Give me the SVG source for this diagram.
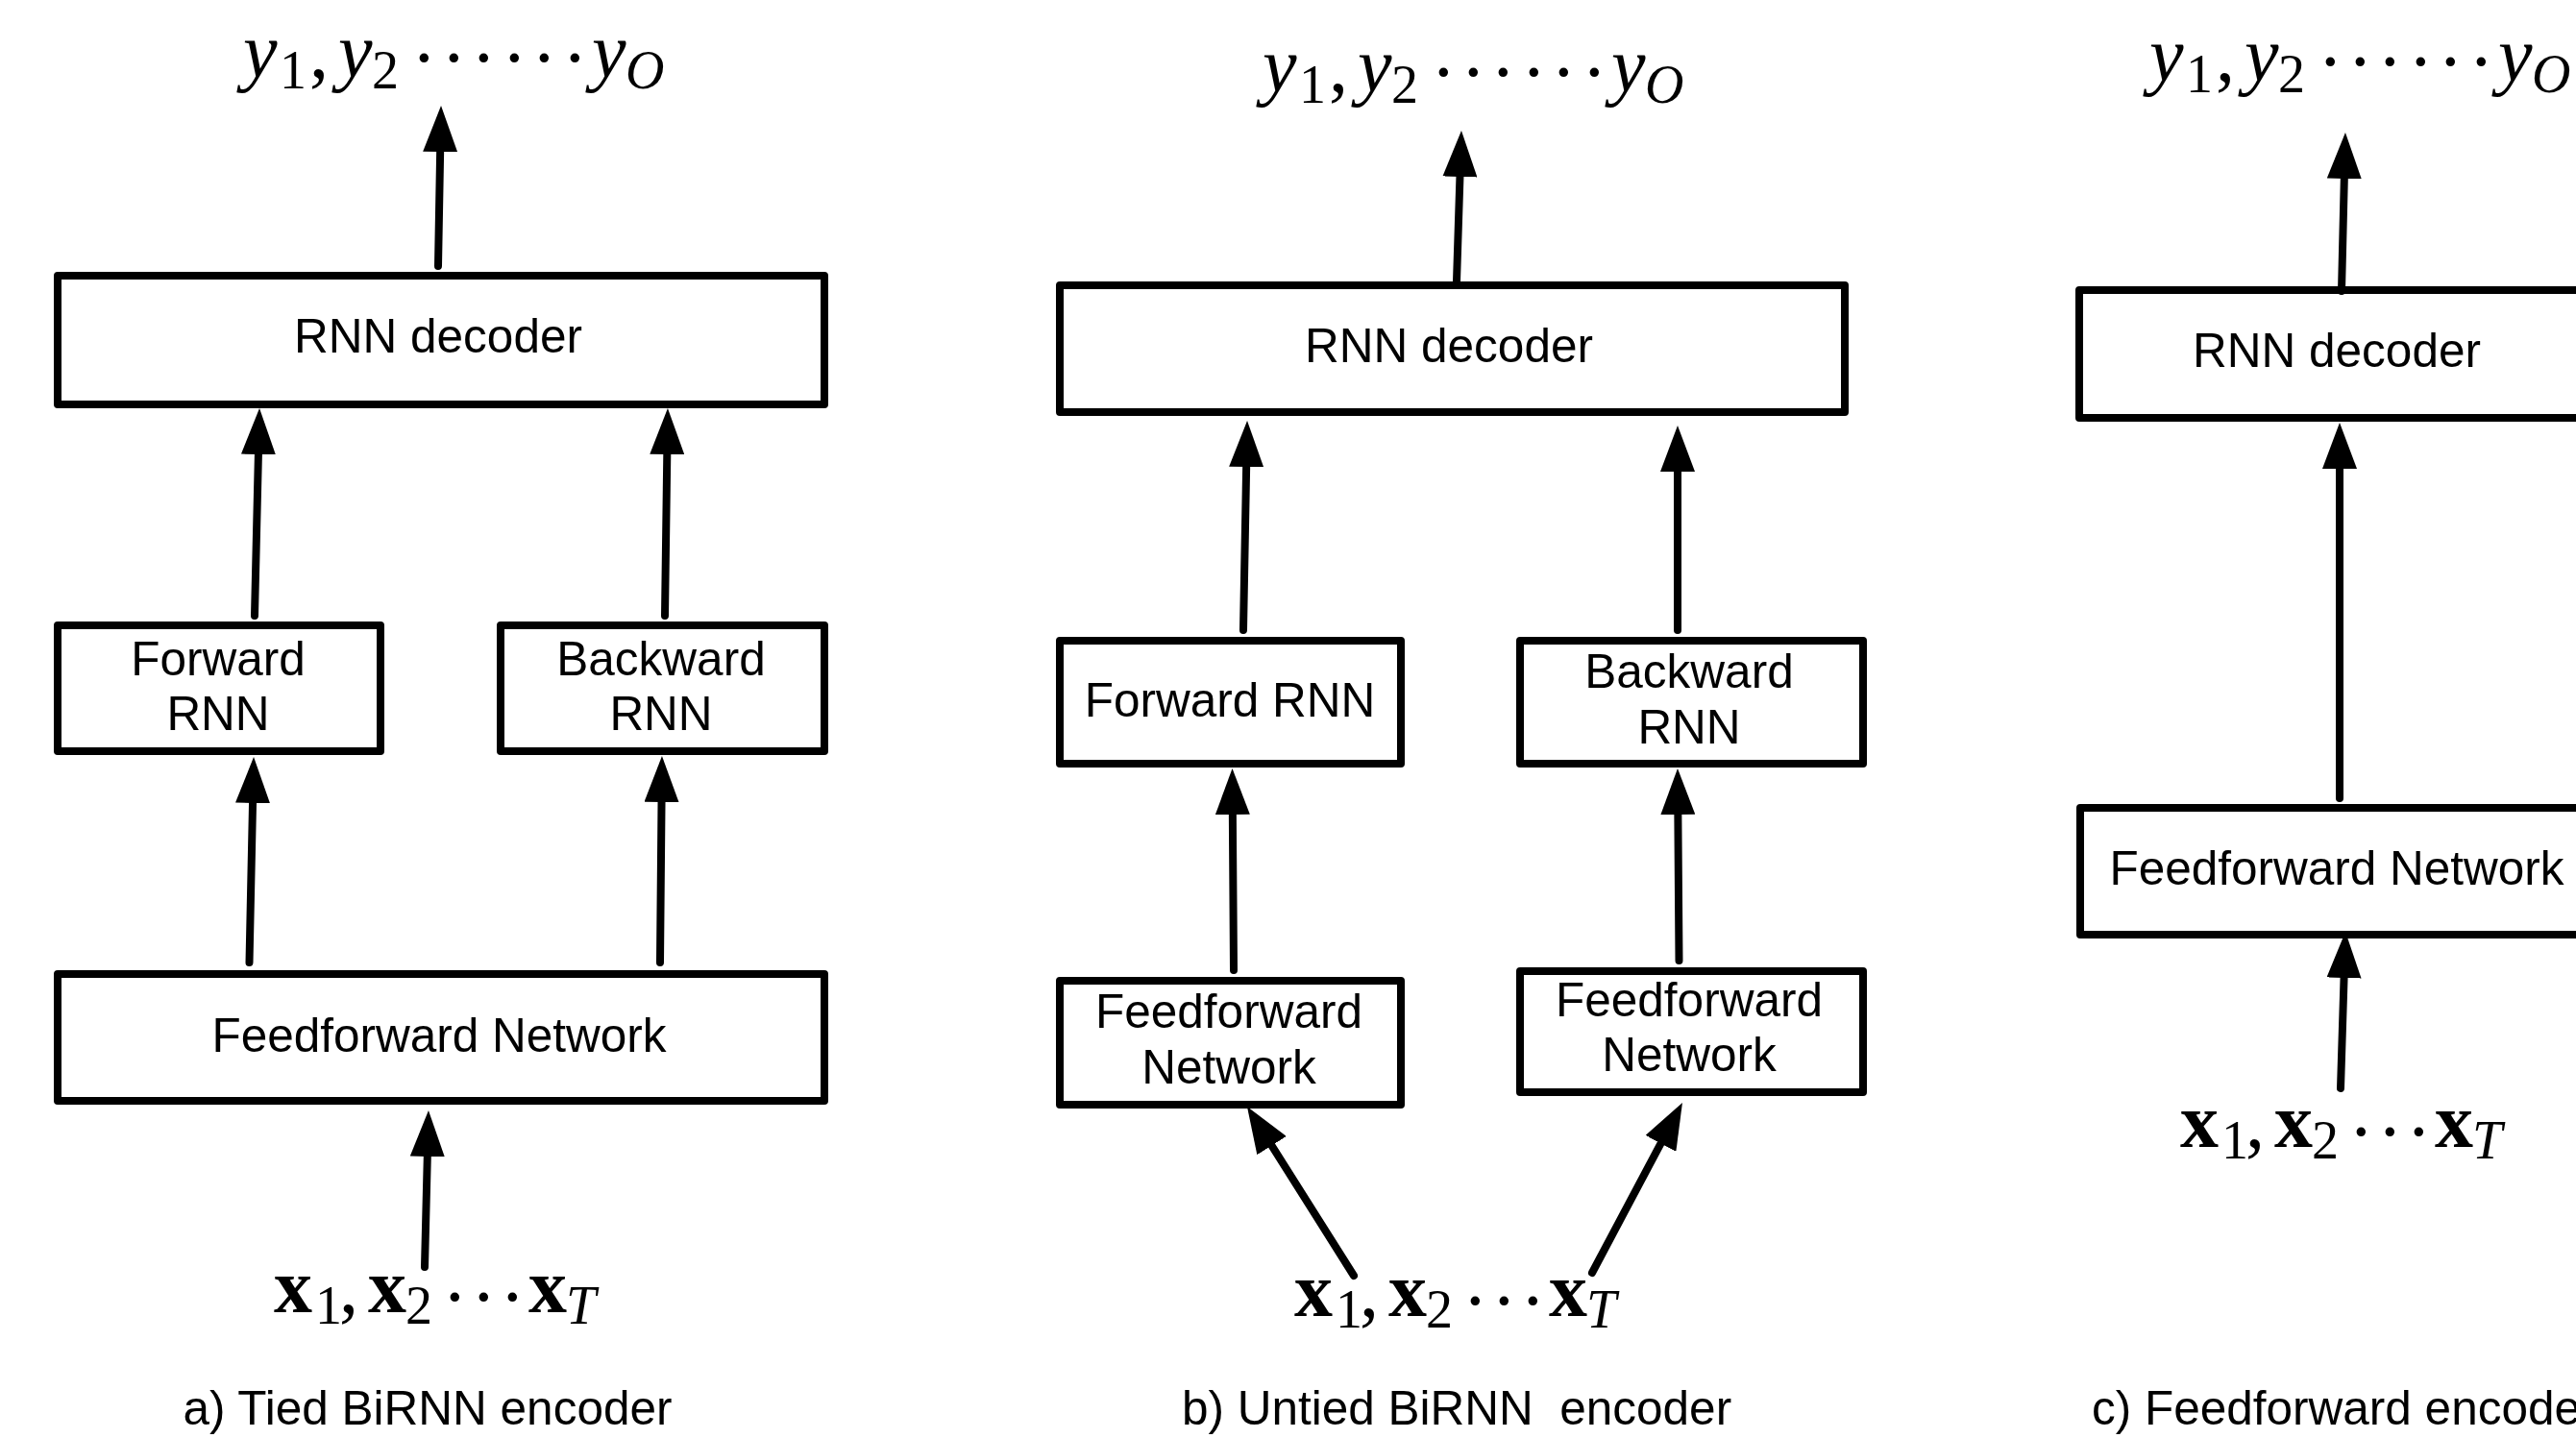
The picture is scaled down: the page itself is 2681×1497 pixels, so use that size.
<svg xmlns="http://www.w3.org/2000/svg" width="2681" height="1497" viewBox="0 0 2681 1497">
<style>
.box{fill:#fff;stroke:#000;stroke-width:8;stroke-linejoin:round}
.lbl{font-family:"Liberation Sans",Arial,Helvetica,sans-serif;font-size:49.5px;fill:#000;text-anchor:middle}
.cap{font-family:"Liberation Sans",Arial,Helvetica,sans-serif;font-size:49.5px;fill:#000}
.m{font-family:"Liberation Serif","Times New Roman",serif;font-size:80px;fill:#000}
.mi{font-style:italic}
.mb{font-weight:bold}
.s{font-size:56px}
.conn line{stroke:#000;stroke-width:8;stroke-linecap:round;fill:none;marker-end:url(#ah)}
</style>
<defs>
<marker id="ah" markerUnits="userSpaceOnUse" markerWidth="48" markerHeight="36" viewBox="0 0 48 36" refX="8" refY="18" orient="auto">
<path d="M0,0 L48,18 L0,36 Z" fill="#000"/>
</marker>
</defs>
<rect width="2681" height="1497" fill="#fff"/>

<!-- Panel a -->
<g id="a-out">
<text class="m"><tspan class="mi" x="253" y="80">y</tspan><tspan class="s" x="291" y="92">1</tspan><tspan x="322" y="80">,</tspan><tspan class="mi" x="352" y="80">y</tspan><tspan class="s" x="387" y="92">2</tspan><tspan x="428" y="87">·</tspan><tspan x="459" y="87">·</tspan><tspan x="490" y="87">·</tspan><tspan x="522" y="87">·</tspan><tspan x="553" y="87">·</tspan><tspan x="585" y="87">·</tspan><tspan class="mi" x="616" y="80">y</tspan><tspan class="s mi" x="651" y="92">O</tspan></text>
</g>
<g id="a-dec"><rect class="box" x="60" y="287" width="798" height="134"/><text class="lbl" x="456" y="367">RNN decoder</text></g>
<g id="a-fwd"><rect class="box" x="60" y="651" width="336" height="131"/><text class="lbl" x="227" y="703">Forward</text><text class="lbl" x="227" y="760">RNN</text></g>
<g id="a-bwd"><rect class="box" x="521" y="651" width="337" height="131"/><text class="lbl" x="688" y="703">Backward</text><text class="lbl" x="688" y="760">RNN</text></g>
<g id="a-ff"><rect class="box" x="60" y="1014" width="798" height="132"/><text class="lbl" x="457" y="1095">Feedforward Network</text></g>
<g id="a-in">
<text class="m"><tspan class="mb" x="285" y="1366">x</tspan><tspan class="s" x="328" y="1378">1</tspan><tspan x="353" y="1366">,</tspan><tspan class="mb" x="383" y="1366">x</tspan><tspan class="s" x="422" y="1378">2</tspan><tspan x="460" y="1377">·</tspan><tspan x="490" y="1377">·</tspan><tspan x="520" y="1377">·</tspan><tspan class="mb" x="550" y="1366">x</tspan><tspan class="s mi" x="589" y="1378">T</tspan></text>
</g>
<text id="a-cap" class="cap" x="445" y="1483" text-anchor="middle">a) Tied BiRNN encoder</text>

<!-- Panel b -->
<g id="b-out" transform="translate(1061,15)">
<text class="m"><tspan class="mi" x="253" y="80">y</tspan><tspan class="s" x="291" y="92">1</tspan><tspan x="322" y="80">,</tspan><tspan class="mi" x="352" y="80">y</tspan><tspan class="s" x="387" y="92">2</tspan><tspan x="428" y="87">·</tspan><tspan x="459" y="87">·</tspan><tspan x="490" y="87">·</tspan><tspan x="522" y="87">·</tspan><tspan x="553" y="87">·</tspan><tspan x="585" y="87">·</tspan><tspan class="mi" x="616" y="80">y</tspan><tspan class="s mi" x="651" y="92">O</tspan></text>
</g>
<g id="b-dec"><rect class="box" x="1103" y="297" width="817" height="132"/><text class="lbl" x="1508" y="377">RNN decoder</text></g>
<g id="b-fwd"><rect class="box" x="1103" y="667" width="355" height="128"/><text class="lbl" x="1280" y="746">Forward RNN</text></g>
<g id="b-bwd"><rect class="box" x="1582" y="667" width="357" height="128"/><text class="lbl" x="1758" y="716">Backward</text><text class="lbl" x="1758" y="774">RNN</text></g>
<g id="b-ffl"><rect class="box" x="1103" y="1021" width="355" height="129"/><text class="lbl" x="1279" y="1070">Feedforward</text><text class="lbl" x="1279" y="1128">Network</text></g>
<g id="b-ffr"><rect class="box" x="1582" y="1011" width="357" height="126"/><text class="lbl" x="1758" y="1058">Feedforward</text><text class="lbl" x="1758" y="1115">Network</text></g>
<g id="b-in" transform="translate(1062,4)">
<text class="m"><tspan class="mb" x="285" y="1366">x</tspan><tspan class="s" x="328" y="1378">1</tspan><tspan x="353" y="1366">,</tspan><tspan class="mb" x="383" y="1366">x</tspan><tspan class="s" x="422" y="1378">2</tspan><tspan x="460" y="1377">·</tspan><tspan x="490" y="1377">·</tspan><tspan x="520" y="1377">·</tspan><tspan class="mb" x="550" y="1366">x</tspan><tspan class="s mi" x="589" y="1378">T</tspan></text>
</g>
<text id="b-cap" class="cap" x="1516" y="1483" text-anchor="middle" xml:space="preserve">b) Untied BiRNN  encoder</text>

<!-- Panel c -->
<g id="c-out" transform="translate(1984,4)">
<text class="m"><tspan class="mi" x="253" y="80">y</tspan><tspan class="s" x="291" y="92">1</tspan><tspan x="322" y="80">,</tspan><tspan class="mi" x="352" y="80">y</tspan><tspan class="s" x="387" y="92">2</tspan><tspan x="428" y="87">·</tspan><tspan x="459" y="87">·</tspan><tspan x="490" y="87">·</tspan><tspan x="522" y="87">·</tspan><tspan x="553" y="87">·</tspan><tspan x="585" y="87">·</tspan><tspan class="mi" x="616" y="80">y</tspan><tspan class="s mi" x="651" y="92">O</tspan></text>
</g>
<g id="c-dec"><rect class="box" x="2164" y="302" width="900" height="133"/><text class="lbl" x="2432" y="382">RNN decoder</text></g>
<g id="c-ff"><rect class="box" x="2165" y="841" width="900" height="132"/><text class="lbl" x="2432" y="921">Feedforward Network</text></g>
<g id="c-in" transform="translate(1984,-172)">
<text class="m"><tspan class="mb" x="285" y="1366">x</tspan><tspan class="s" x="328" y="1378">1</tspan><tspan x="353" y="1366">,</tspan><tspan class="mb" x="383" y="1366">x</tspan><tspan class="s" x="422" y="1378">2</tspan><tspan x="460" y="1377">·</tspan><tspan x="490" y="1377">·</tspan><tspan x="520" y="1377">·</tspan><tspan class="mb" x="550" y="1366">x</tspan><tspan class="s mi" x="589" y="1378">T</tspan></text>
</g>
<text id="c-cap" class="cap" x="2177" y="1483">c) Feedforward encoder</text>

<g id="connectors" class="conn">
<line x1="456" y1="277" x2="458.3" y2="150"/>
<line x1="265" y1="641" x2="269.1" y2="465"/>
<line x1="692" y1="641" x2="694.4" y2="465"/>
<line x1="259.5" y1="1002" x2="263.2" y2="828"/>
<line x1="687" y1="1002" x2="688.6" y2="827"/>
<line x1="442" y1="1319" x2="445" y2="1196"/>
<line x1="1516" y1="293" x2="1519.7" y2="176"/>
<line x1="1294" y1="656" x2="1297.3" y2="478"/>
<line x1="1746" y1="656" x2="1746" y2="483"/>
<line x1="1284" y1="1010" x2="1282.8" y2="840"/>
<line x1="1747.5" y1="1000" x2="1746.3" y2="840"/>
<line x1="1409" y1="1328" x2="1319.3" y2="1185.8"/>
<line x1="1657" y1="1325" x2="1732.2" y2="1183.3"/>
<line x1="2437" y1="303" x2="2440" y2="178"/>
<line x1="2435" y1="831" x2="2435" y2="480"/>
<line x1="2436" y1="1133" x2="2439.8" y2="1010"/>
</g>
</svg>
